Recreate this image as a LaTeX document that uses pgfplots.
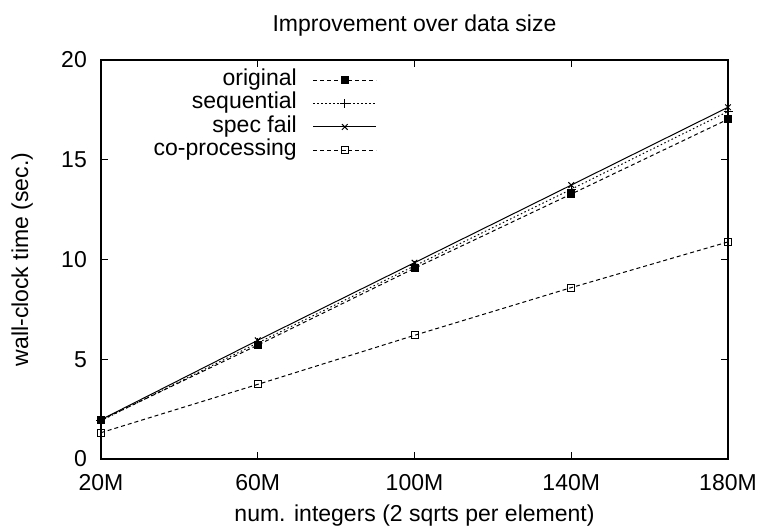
\documentclass[border=0pt]{standalone}
\usepackage{fontspec}
\setmainfont{Liberation Sans}
\usepackage{pgfplots}
\pgfplotsset{compat=1.18}
\begin{document}
\fontsize{23bp}{27bp}\selectfont
\begin{tikzpicture}
\begin{axis}[
  scale only axis, width=627bp, height=399bp,
  xmin=20, xmax=180, ymin=0, ymax=20,
  xtick={20,60,100,140,180},
  xticklabels={20M,60M,100M,140M,180M},
  ytick={0,5,10,15,20},
  tick align=inside, major tick length=7bp,
  tick style={line width=1bp, black},
  axis line style={line width=1.2bp},
  /pgf/number format/assume math mode=true,
  ticklabel style={font=\fontsize{23bp}{27bp}\selectfont},
  xticklabel style={anchor=base, inner sep=0pt, yshift=-31bp},
  yticklabel style={anchor=east, inner sep=0pt, xshift=-14bp},
  title={Improvement over data size},
  every axis title/.style={at={(axis description cs:0.5,1.0702)}, anchor=base},
  xlabel={num. integers (2 sqrts per element)},
  every axis x label/.style={at={(axis description cs:0.5,-0.1554)}, anchor=base},
  ylabel={wall-clock time (sec.)},
  every axis y label/.style={at={(axis description cs:-0.1164,0.5)}, anchor=base, rotate=90},
  clip=false,
  legend style={draw=none, fill=none, at={(0.4402,0.9787)}, anchor=north east,
    inner sep=0pt, legend cell align=right, font=\fontsize{23bp}{27bp}\selectfont,
    nodes={text height=15.5bp, text depth=4.8bp, inner ysep=1.5bp, inner xsep=0pt},
    /tikz/column sep=16bp},
  legend plot pos=right,
  legend image code/.code={\draw[mark repeat=2,mark phase=2] plot coordinates {(0bp,0bp)(31.5bp,0bp)(63bp,0bp)};},
  every axis plot/.append style={line width=1bp, black},
]
\addplot[dash pattern=on 4bp off 3bp, mark=square*, mark size=3.5bp, mark options={solid}]
  coordinates {(20,1.95)(60,5.71)(100,9.56)(140,13.28)(180,17.03)};
\addlegendentry{original}
\addplot[dash pattern=on 1.5bp off 2.5bp, mark=+, mark size=4.5bp, mark options={solid}]
  coordinates {(20,1.92)(60,5.82)(100,9.68)(140,13.52)(180,17.42)};
\addlegendentry{sequential}
\addplot[solid, mark=x, mark size=4bp, mark options={solid}]
  coordinates {(20,1.97)(60,5.95)(100,9.84)(140,13.73)(180,17.63)};
\addlegendentry{spec fail}
\addplot[dash pattern=on 4bp off 3bp, mark=square, mark size=3.5bp, mark options={solid}]
  coordinates {(20,1.32)(60,3.74)(100,6.2)(140,8.59)(180,10.88)};
\addlegendentry{co-processing}
\end{axis}
\pgfresetboundingbox
\path ([shift={(-101bp,-72bp)}]current axis.south west) rectangle ([shift={(31bp,60bp)}]current axis.north east);
\end{tikzpicture}
\end{document}
